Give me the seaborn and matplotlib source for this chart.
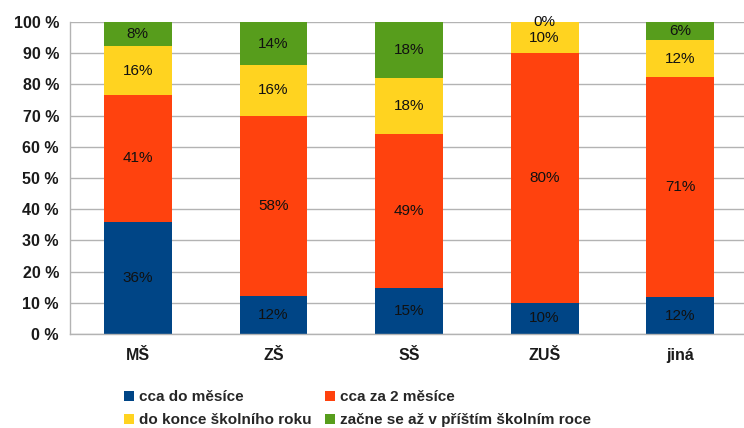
import matplotlib
matplotlib.use("Agg")
import matplotlib.pyplot as plt
import numpy as np
import pandas as pd
import seaborn as sns
from matplotlib.patches import Patch

# data (percent)
categories = ["MŠ", "ZŠ", "SŠ", "ZUŠ", "jiná"]
series_names = ["cca do měsíce", "cca za 2 měsíce", "do konce školního roku",
                "začne se až v příštím školním roce"]
do_mesice = [36.0, 12.2, 14.8, 10.0, 11.7]
za_2_mesice = [40.6, 57.8, 49.2, 80.0, 70.6]
do_konce_roku = [15.6, 16.2, 18.0, 10.0, 11.8]
pristi_rok = [7.8, 13.8, 18.0, 0.0, 5.9]
colors = ["#004586", "#ff420e", "#ffd320", "#579d1c"]
y_ticks = [0, 10, 20, 30, 40, 50, 60, 70, 80, 90, 100]

sns.set_style("white")
plt.rcParams["font.family"] = ["Liberation Sans", "DejaVu Sans"]

values = np.array([do_mesice, za_2_mesice, do_konce_roku, pristi_rok])
cum = values.cumsum(axis=0)

fig = plt.figure(figsize=(7.44, 4.28), dpi=100)
ax = fig.add_axes([70 / 744, 1 - 334 / 428, 678 / 744, 312 / 428])

# stacked bars: draw cumulative totals from top layer down
for i in range(3, -1, -1):
    df = pd.DataFrame({"kat": categories, "val": cum[i]})
    sns.barplot(data=df, x="kat", y="val", color=colors[i], saturation=1,
                width=0.5, ax=ax, zorder=2, edgecolor="none", linewidth=0)

# value labels at segment centers
for i in range(4):
    for j, cat in enumerate(categories):
        y = cum[i][j] - values[i][j] / 2
        ax.text(j, y, f"{values[i][j]:.0f}%", ha="center", va="center",
                fontsize=11, color="#111111", zorder=5)

ax.set_ylim(0, 100)
ax.set_xlim(-0.5, 4.5)
ax.set_yticks(y_ticks)
ax.set_yticklabels([f"{t} %" for t in y_ticks], fontsize=11.5, fontweight="bold",
                   color="#1a1a1a")
ax.set_xticks(range(len(categories)))
ax.set_xticklabels(categories, fontsize=11.5, fontweight="bold", color="#1a1a1a")
ax.set_xticks(np.arange(-0.5, 5, 1), minor=True)
ax.tick_params(axis="x", which="major", length=0, pad=10)
ax.tick_params(axis="x", which="minor", length=6, color="#b3b3b3", width=1)
ax.tick_params(axis="y", length=5, color="#b3b3b3", width=1, pad=3)
ax.set_xlabel("")
ax.set_ylabel("")
ax.yaxis.grid(True, color="#b3b3b3", linewidth=1)
ax.set_axisbelow(True)
for s in ["top", "right"]:
    ax.spines[s].set_visible(False)
for s in ["left", "bottom"]:
    ax.spines[s].set_color("#b3b3b3")
    ax.spines[s].set_linewidth(1)

# legend filled row by row like the reference
order = [0, 2, 1, 3]
handles = [Patch(facecolor=colors[k], edgecolor="none") for k in order]
labels = [series_names[k] for k in order]
fig.legend(handles, labels, ncol=2, loc="upper left",
           bbox_to_anchor=(124 / 744, 1 - 390 / 428), frameon=False,
           prop={"weight": "bold", "size": 11}, handlelength=0.65,
           handleheight=0.65, handletextpad=0.35, columnspacing=0.85,
           labelspacing=0.62, borderaxespad=0, borderpad=0)

fig.savefig("out.png", dpi=100)
